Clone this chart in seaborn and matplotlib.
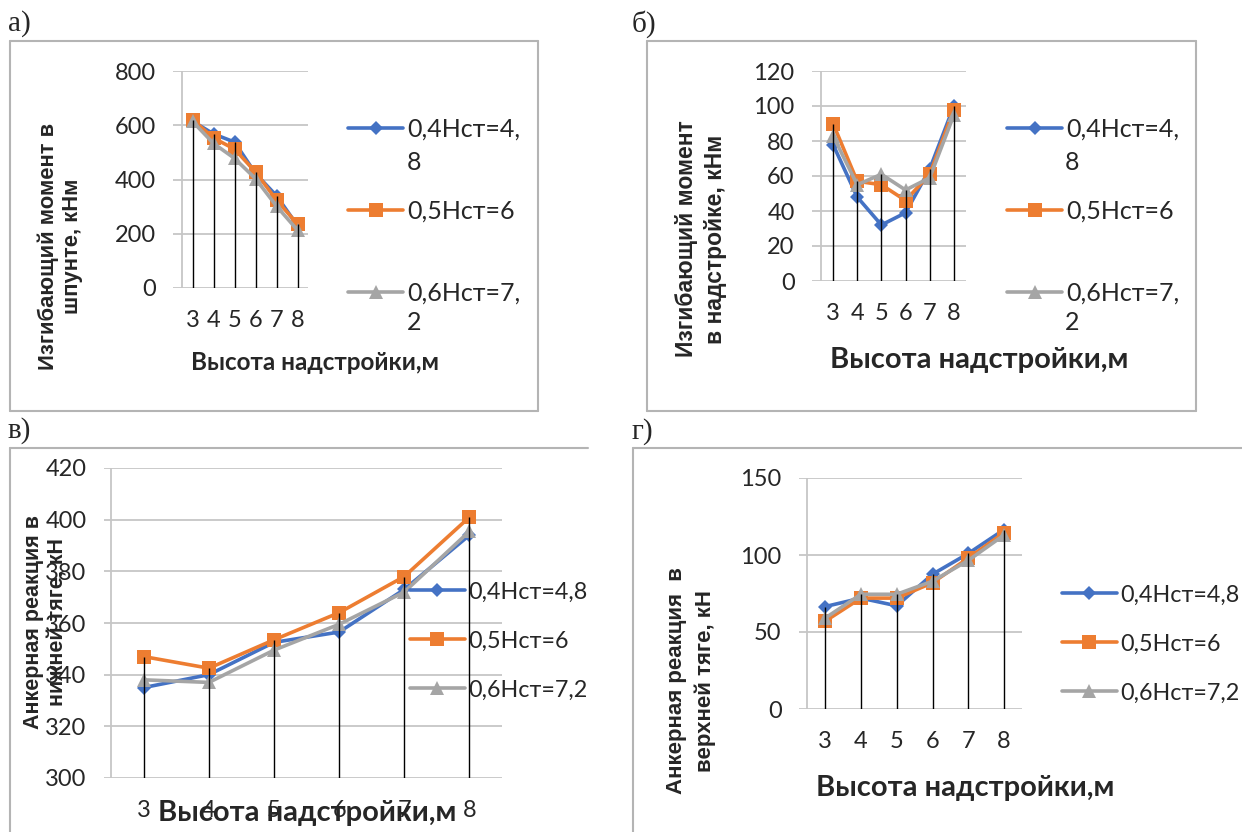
import numpy as np
import pandas as pd
import matplotlib
matplotlib.use("Agg")
import matplotlib.pyplot as plt
from matplotlib.lines import Line2D
import seaborn as sns

heights = [3, 4, 5, 6, 7, 8]
series_names = ["0,4Нст=4,8", "0,5Нст=6", "0,6Нст=7,2"]

# а) изгибающий момент в шпунте, кНм
moment_pile_04 = [615, 568, 538, 422, 340, 230]
moment_pile_05 = [621, 553, 512, 428, 324, 236]
moment_pile_06 = [614, 533, 478, 403, 302, 213]

# б) изгибающий момент в надстройке, кНм
moment_top_04 = [78, 48, 32, 39, 64, 100]
moment_top_05 = [90, 57, 55, 46, 61, 98]
moment_top_06 = [83, 55, 61, 52, 59, 95]

# в) анкерная реакция в нижней тяге, кН
anchor_low_04 = [335, 340, 352.5, 356.5, 373, 394]
anchor_low_05 = [347, 342.5, 353.5, 364, 378, 401]
anchor_low_06 = [338, 337, 349.5, 359.5, 372, 395.5]

# г) анкерная реакция в верхней тяге, кН
anchor_up_04 = [66.5, 72, 67, 87.5, 101, 116.5]
anchor_up_05 = [57, 72, 72, 82, 98, 114.5]
anchor_up_06 = [59, 74.5, 74.5, 83, 96.5, 113]

xlabel_text = "Высота надстройки,м"

W, H = 1242, 832
BLUE, ORANGE, GRAY = "#4472C4", "#ED7D31", "#A5A5A5"
GRID = "#c6c6c6"
FRAME = "#b4b4b4"
palette = dict(zip(series_names, [BLUE, ORANGE, GRAY]))
marker_map = dict(zip(series_names, ["D", "s", "^"]))
marker_size = {"D": 7.5, "s": 10.5, "^": 9.5}
LW = 2.6
TICK_FS = 17

sns.set_style("white")
plt.rcParams["font.family"] = ["Lato", "DejaVu Sans"]

fig = plt.figure(figsize=(W / 100, H / 100), dpi=100)


def fx(px):
    return px / W


def fy(py):
    return 1 - py / H


def to_frame(values):
    rows = []
    for name, vals in zip(series_names, values):
        for h, v in zip(heights, vals):
            rows.append({"h": h, "val": v, "series": name})
    return pd.DataFrame(rows)


def frame_line(x0, y0, x1, y1):
    fig.add_artist(Line2D([fx(x0), fx(x1)], [fy(y0), fy(y1)], color=FRAME,
                          lw=1.5, transform=fig.transFigure))


def draw_panel(values, box, xleft, ylim, yticks, leg, xlab, ylab):
    x0, y0, x1, y1 = box
    ax = fig.add_axes([fx(x0), fy(y1), (x1 - x0) / W, (y1 - y0) / H])
    df = to_frame(values)
    sns.lineplot(data=df, x="h", y="val", hue="series", style="series",
                 palette=palette, markers=marker_map, dashes=False,
                 linewidth=LW, markersize=9, markeredgewidth=0,
                 legend=False, ax=ax)
    for line in ax.lines:
        line.set_markersize(marker_size[line.get_marker()])

    # линии проекции (drop lines) как в Excel
    ax.vlines(heights, ylim[0], np.max(values, axis=0), colors="black",
              lw=1, zorder=5)
    ax.axvline(2.5, color=GRID, lw=1.3, zorder=0)

    ax.set_xlim(xleft, 8.5)
    ax.set_ylim(*ylim)
    ax.set_yticks(yticks)
    ax.set_xticks(heights)
    ax.grid(axis="y", color=GRID, lw=1.3)
    ax.grid(axis="x", visible=False)
    for s in ax.spines.values():
        s.set_visible(False)
    ax.tick_params(axis="x", length=0, pad=16, labelsize=TICK_FS)
    ax.tick_params(axis="y", length=0, pad=12.5, labelsize=TICK_FS)
    ax.set_xlabel("")
    ax.set_ylabel("")

    # легенда
    handles = [Line2D([], [], color=palette[n], marker=marker_map[n], lw=LW,
                      ms=marker_size[marker_map[n]], mew=0)
               for n in series_names]
    ax.legend(handles, leg["labels"], loc="center left",
              bbox_to_anchor=(fx(leg["x"]), fy(leg["y"])),
              bbox_transform=fig.transFigure, frameon=False, fontsize=leg["fs"],
              handlelength=leg["hl"], handletextpad=0.16, borderpad=0,
              borderaxespad=0, labelspacing=leg["sp"])
    for (tx, ty, t) in leg.get("extra", []):
        fig.text(fx(tx), fy(ty), t, fontsize=leg["fs"], ha="left", va="center")

    fig.text(fx(xlab[0]), fy(xlab[1]), xlabel_text, fontsize=xlab[2],
             fontweight="bold", ha="center", va="center")
    fig.text(fx(ylab[0]), fy(ylab[1]), ylab[3], fontsize=ylab[2],
             fontweight="bold", family=["Liberation Sans", "DejaVu Sans"],
             ha="center", va="center", rotation=90,
             multialignment="center", linespacing=ylab[4])
    return ax


# рамки областей диаграмм
for (a, b, c, d) in [(10, 41, 538, 411), (647, 41, 1196, 411)]:
    frame_line(a, b, c, b)
    frame_line(a, d, c, d)
    frame_line(a, b, a, d)
    frame_line(c, b, c, d)
frame_line(10, 448, 588, 448)
frame_line(10, 448, 10, 832)
frame_line(633, 448, 1242, 448)
frame_line(633, 448, 633, 832)

# подписи панелей
for (tx, ty, t) in [(8, 24, "а)"), (632, 24, "б)"), (8, 431, "в)"), (632, 432, "г)")]:
    fig.text(fx(tx), fy(ty), t, fontsize=21, family="Liberation Serif",
             ha="left", va="center")

draw_panel([moment_pile_04, moment_pile_05, moment_pile_06],
           (173, 71, 308, 288), 2.07, (0, 800), [0, 200, 400, 600, 800],
           {"labels": ["0,4Нст=4,", "0,5Нст=6", "0,6Нст=7,"], "x": 348, "y": 211,
            "fs": 18, "hl": 2.2, "sp": 2.35,
            "extra": [(407, 162, "8"), (407, 323, "2")]},
           (315, 363, 17.5),
           (60, 246, 15.8, "Изгибающий момент в\nшпунте, кНм", 1.2))

draw_panel([moment_top_04, moment_top_05, moment_top_06],
           (812, 71, 966, 281), 2.13, (0, 120), list(range(0, 121, 20)),
           {"labels": ["0,4Нст=4,", "0,5Нст=6", "0,6Нст=7,"], "x": 1007, "y": 211,
            "fs": 18, "hl": 2.2, "sp": 2.35,
            "extra": [(1065, 162, "8"), (1065, 323, "2")]},
           (979, 360, 21),
           (701, 239, 16.5, "Изгибающий момент\nв надстройке, кНм", 1.35))

draw_panel([anchor_low_04, anchor_low_05, anchor_low_06],
           (104, 468, 502, 778), 2.39, (300, 420), list(range(300, 421, 20)),
           {"labels": series_names, "x": 410, "y": 641, "fs": 16.8, "hl": 2.35,
            "sp": 1.2},
           (307, 813, 21),
           (46, 622, 15.5, "Анкерная реакция в\nнижней тяге, кН", 1.2))

draw_panel([anchor_up_04, anchor_up_05, anchor_up_06],
           (799, 478, 1022, 709), 2.27, (0, 150), [0, 50, 100, 150],
           {"labels": series_names, "x": 1062, "y": 644, "fs": 16.8, "hl": 2.35,
            "sp": 1.2},
           (965, 788, 21),
           (691, 681, 16, "Анкерная реакция  в\nверхней тяге, кН", 1.4))

fig.savefig("out.png", dpi=100)
